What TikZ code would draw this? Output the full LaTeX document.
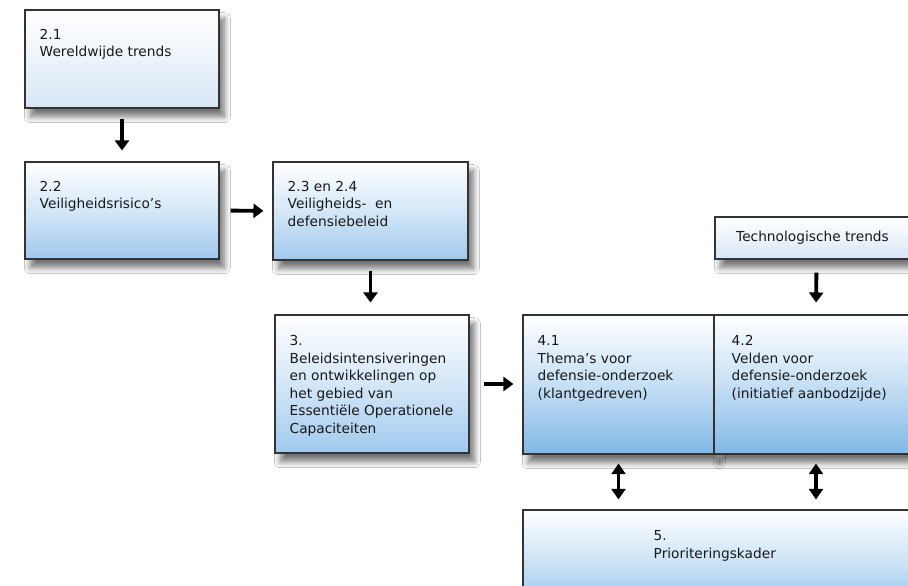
\documentclass[tikz,border=0pt]{standalone}
\usepackage{fontspec}
\setmainfont{DejaVu Sans}
\usetikzlibrary{shadows.blur,arrows.meta}
\definecolor{palebot}{HTML}{D6E5F5}
\definecolor{midbot}{HTML}{A0C9EE}
\definecolor{deepbot}{HTML}{80B8E7}
\definecolor{fivebot}{HTML}{8CBFEA}
\tikzset{
  box/.style={draw=black!80, line width=0.8pt, rectangle, inner sep=0pt,
    top color=white, bottom color=#1, middle color=#1!45,
    blur shadow={shadow xshift=4pt, shadow yshift=-6.5pt, shadow blur radius=4.5pt, shadow blur steps=8, shadow opacity=55}},
  lbl/.style={anchor=north west, inner sep=0pt, align=left,
    font=\fontsize{10.3pt}{13.2pt}\selectfont, text=black!90},
  arr/.style={line width=2.9pt, -{Triangle[width=10.5pt,length=7.5pt]}},
  darr/.style={line width=2.9pt, {Triangle[width=10.5pt,length=8pt]}-{Triangle[width=10.5pt,length=8pt]}},
}
\begin{document}
\begin{tikzpicture}[x=0.75pt,y=-0.75pt]
\useasboundingbox (0,0) rectangle (908,586);
\fill[white] (0,0) rectangle (908,586);
\begin{scope}
\clip (0,0) rectangle (908,586);
% boxes
\node[box=palebot, minimum width=145.5pt, minimum height=73.5pt] (b21) at (122,59) {};
\node[box=midbot, minimum width=145.5pt, minimum height=72.75pt] (b22) at (122,210.5) {};
\node[box=midbot, minimum width=146.25pt, minimum height=73.5pt] (b23) at (370.5,211) {};
\node[box=midbot, minimum width=145.5pt, minimum height=103.5pt] (b3) at (372,384) {};
\node[box=palebot, minimum width=152.25pt, minimum height=31.5pt, font=\fontsize{10.3pt}{13.2pt}\selectfont, text=black!90] (tech) at (816.5,238) {\hspace*{-6pt}Technologische trends};
\node[box=deepbot, minimum width=143.25pt, minimum height=104.25pt] (b41) at (618.5,384.5) {};
\node[box=deepbot, minimum width=153pt, minimum height=104.25pt] (b42) at (816,384.5) {};
\node[box=fivebot, minimum width=296.25pt, minimum height=78.75pt] (b5) at (720.5,562.5) {};
% texts
\node[lbl] (t21) at ([xshift=11.25pt,yshift=-14.5pt]b21.north west) {2.1\\Wereldwijde trends};
\node[lbl] (t22) at ([xshift=11.25pt,yshift=-14.5pt]b22.north west) {2.2\\Veiligheidsrisico’s};
\node[lbl] (t23) at ([xshift=11.25pt,yshift=-14.5pt]b23.north west) {2.3 en 2.4\\Veiligheids-~ en\\defensiebeleid};
\node[lbl] (t3) at ([xshift=11.25pt,yshift=-15.5pt]b3.north west) {3.\\Beleidsintensiveringen\\en ontwikkelingen op\\het gebied van\\Essentiële Operationele\\Capaciteiten};
\node[lbl] (t41) at ([xshift=11.25pt,yshift=-15.5pt]b41.north west) {4.1\\Thema’s voor\\defensie-onderzoek\\(klantgedreven)};
\node[lbl] (t42) at ([xshift=13.5pt,yshift=-15.5pt]b42.north west) {4.2\\Velden voor\\defensie-onderzoek\\(initiatief aanbodzijde)};
\node[lbl] (t5) at ([xshift=98.25pt,yshift=-15.5pt]b5.north west) {5.\\Prioriteringskader};
% arrows
\draw[arr, shorten <=7.5pt, shorten >=8.25pt] (b21.south) -- (b22.north);
\draw[arr, shorten <=8.25pt, shorten >=6.75pt] (b22.east) -- (b23.west);
\draw[arr, shorten <=7.5pt, shorten >=9pt] (b23.south) -- (b23.south |- b3.north);
\draw[arr, shorten <=10.5pt, shorten >=6.75pt] (b3.east) -- (b3.east -| b41.west);
\draw[arr, shorten <=9.75pt, shorten >=9pt] (tech.south) -- (b42.north);
\draw[darr, shorten <=6.75pt, shorten >=7.5pt] (b41.south) -- (b41.south |- b5.north);
\draw[darr, shorten <=6.75pt, shorten >=7.5pt] (b42.south) -- (b42.south |- b5.north);
\end{scope}
\end{tikzpicture}
\end{document}
